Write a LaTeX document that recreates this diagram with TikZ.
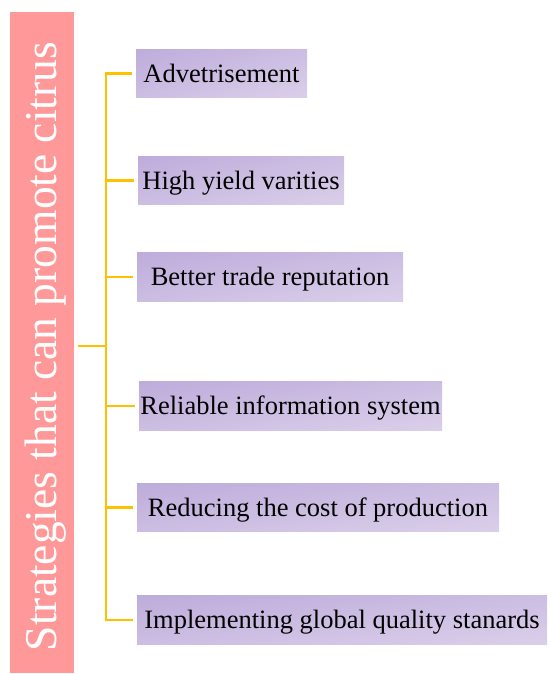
\documentclass[tikz,border=0pt]{standalone}
\usepackage{fontspec}
\setmainfont{Liberation Serif}
\definecolor{barred}{HTML}{FF9999}
\definecolor{linkcol}{HTML}{FFC000}
\pgfdeclarefunctionalshading{itemshade}{\pgfpoint{-50bp}{-50bp}}{\pgfpoint{50bp}{50bp}}{}{
  sub 100 add 200 div dup dup
  0.114 mul 0.831 add 3 1 roll
  0.278 mul 0.604 add 3 1 roll
  0.220 mul 0.690 add 3 1 roll
}
\tikzset{
  item/.style={rectangle, inner sep=0pt, minimum height=48.5pt,
    shade, shading=itemshade, shading angle=0,
    font=\fontsize{26.5}{30}\selectfont, text height=17.5pt, text depth=0pt},
  link/.style={draw=linkcol, line width=2.2pt, line join=miter},
}
\begin{document}
\begin{tikzpicture}[x=1pt,y=-1pt]
\useasboundingbox (0,0) rectangle (550,674);
\node[fill=barred, minimum width=64pt, minimum height=661pt, inner sep=0pt] (root) at (42,342.5) {};
\node[rotate=90, text=white, font=\fontsize{45.5}{50}\selectfont, text height=30pt, text depth=0pt, inner sep=0pt] (title) at (41,346.5) {Strategies that can promote citrus};
\node[item, minimum width=171pt] (b1) at (221.5,73.5) {Advetrisement};
\node[item, minimum width=206pt] (b2) at (241,180.5) {High yield varities};
\node[item, minimum width=266pt] (b3) at (270,277) {Better trade reputation};
\node[item, minimum width=303pt] (b4) at (290.5,406) {Reliable information system};
\node[item, minimum width=362pt] (b5) at (318,507.5) {Reducing the cost of production};
\node[item, minimum width=410pt] (b6) at (342,620) {Implementing global quality stanards};
\coordinate (j) at (106,346);
\draw[link] ([xshift=-4pt]b1.west) -| (j |- b6.west) -- ([xshift=-4pt]b6.west);
\foreach \b in {b2,b3,b4,b5} \draw[link] (j |- \b.west) -- ([xshift=-4pt]\b.west);
\draw[link] ([xshift=4pt]root.east |- j) -- (j);
\end{tikzpicture}
\end{document}
